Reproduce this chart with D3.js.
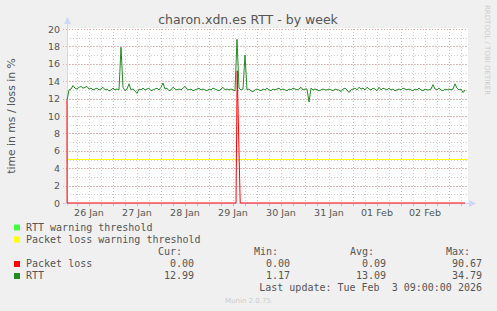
<!DOCTYPE html>
<html>
<head>
<meta charset="utf-8">
<script src="https://cdn.jsdelivr.net/npm/d3@7"></script>
<style>
body { margin: 0; background: #F0F0F0; }
text { font-family: "DejaVu Sans", sans-serif; }
.mono { font-family: "DejaVu Sans Mono", monospace; font-size: 10px; fill: #555; }
</style>
</head>
<body>
<div id="chart"></div>
<script>
// y axis tick labels
let yTicks = [0, 2, 4, 6, 8, 10, 12, 14, 16, 18, 20];

// RTT, one value per hour, starting Jan 26 01:00
let rttValues = [
    11.8, 13.0, 13.1, 13.5, 13.2, 13.1, 13.3, 13.4, 13.2, 13.3, 13.4, 13.1, 13.2, 13.0, 13.1, 13.2, 13.0, 13.1, 13.3, 13.0, 13.1, 12.9, 13.0, 13.2,
    13.0, 13.1, 13.0, 17.9, 13.3, 12.9, 13.1, 13.7, 13.0, 13.1, 12.9, 12.6, 13.1, 13.0, 13.2, 13.0, 13.1, 13.2, 12.9, 13.0, 13.1, 13.2, 13.0, 13.3,
    13.8, 13.1, 13.2, 12.9, 13.0, 13.3, 13.1, 13.0, 13.1, 13.0, 13.2, 13.4, 13.1, 13.0, 13.1, 12.9, 13.0, 13.1, 13.2, 13.0, 13.1, 13.0, 12.9, 13.1,
    13.0, 13.2, 13.1, 13.0, 12.9, 13.1, 13.3, 13.0, 13.1, 13.0, 13.1, 13.0, 12.9, 18.8, 13.2, 13.0, 13.1, 17.0, 13.0, 13.1, 12.9, 12.8, 13.0, 13.1,
    13.0, 12.9, 13.1, 13.0, 13.2, 13.0, 12.9, 13.1, 13.0, 13.1, 13.2, 13.0, 13.1, 13.0, 12.9, 13.1, 13.0, 13.2, 13.1, 13.0, 13.1, 13.3, 13.0, 13.1,
    13.1, 11.6, 13.2, 13.0, 13.1, 13.0, 12.9, 13.0, 13.1, 13.0, 13.0, 13.1, 13.0, 12.9, 13.1, 13.0, 13.0, 12.8, 13.1, 13.2, 13.0, 12.7, 13.0, 13.1,
    13.2, 13.0, 13.3, 13.1, 13.2, 13.0, 13.3, 13.1, 13.0, 13.2, 13.1, 12.9, 13.3, 13.0, 13.2, 13.1, 13.0, 13.2, 13.0, 13.1, 12.9, 13.0, 13.1, 13.0,
    13.2, 13.1, 13.0, 13.1, 13.0, 12.9, 13.1, 13.0, 13.2, 13.0, 12.9, 13.1, 13.0, 13.0, 13.1, 13.6, 13.1, 13.0, 13.2, 13.0, 12.9, 13.1, 13.0, 13.1,
    13.0, 13.1, 13.7, 13.2, 13.0, 13.1, 12.7, 12.99
];

// packet loss, [hours after Jan 26 00:00, value], zero elsewhere
let lossPoints = [[1, 11.8], [1.05, 0], [85.5, 0], [86.1, 15.2], [87.6, 0], [200, 0]];

let lossWarning = 5;

let legendNames = ["RTT warning threshold", "Packet loss warning threshold", "Packet loss", "RTT"];
let legendColors = ["#44FF44", "#FFFF00", "#FF0000", "#228B22"];
let statCur = ["0.00", "12.99"];
let statMin = ["0.00", "1.17"];
let statAvg = ["0.09", "13.09"];
let statMax = ["90.67", "34.79"];

var width = 497, height = 311;
var t0 = Date.UTC(2026, 0, 26, 0, 0);
var hour = 3600 * 1000;

var svg = d3.select("#chart").append("svg")
    .attr("width", width)
    .attr("height", height)
    .style("display", "block");

svg.append("rect").attr("width", width).attr("height", height).attr("fill", "#F0F0F0");

var x = d3.scaleUtc()
    .domain([new Date(t0 + 1 * hour), new Date(t0 + 201.5 * hour)])
    .range([67, 468]);

var y = d3.scaleLinear().domain([0, 20]).range([203, 29]);

// canvas
svg.append("rect")
    .attr("x", 67).attr("y", 28)
    .attr("width", 401).attr("height", 176)
    .attr("fill", "#fff");

//grid: minor every 6h and every 1, major every day and every 2
var g = svg.append("g");
var minorX = d3.utcHour.every(6).range(x.domain()[0], x.domain()[1]);
var majorX = d3.utcDay.range(x.domain()[0], x.domain()[1]);

g.selectAll(".vminor").data(minorX).enter().append("line")
    .attr("x1", d => Math.round(x(d)) + 0.5).attr("x2", d => Math.round(x(d)) + 0.5)
    .attr("y1", 29).attr("y2", 203)
    .attr("stroke", "#cfcfcf").attr("stroke-dasharray", "1,2");

g.selectAll(".hminor").data(d3.range(1, 20, 1)).enter().append("line")
    .attr("x1", 67).attr("x2", 468)
    .attr("y1", d => Math.round(y(d)) + 0.5).attr("y2", d => Math.round(y(d)) + 0.5)
    .attr("stroke", "#cfcfcf").attr("stroke-dasharray", "1,2");

g.selectAll(".vmajor").data(majorX).enter().append("line")
    .attr("x1", d => Math.round(x(d)) + 0.5).attr("x2", d => Math.round(x(d)) + 0.5)
    .attr("y1", 29).attr("y2", 206)
    .attr("stroke", "#eda8a8").attr("stroke-dasharray", "1,2");

g.selectAll(".hmajor").data(yTicks).enter().append("line")
    .attr("x1", 63).attr("x2", 468)
    .attr("y1", d => Math.round(y(d)) + 0.5).attr("y2", d => Math.round(y(d)) + 0.5)
    .attr("stroke", "#eda8a8").attr("stroke-dasharray", "1,2");

// little ticks under the x axis
g.selectAll(".xt").data(minorX).enter().append("line")
    .attr("x1", d => Math.round(x(d)) + 0.5).attr("x2", d => Math.round(x(d)) + 0.5)
    .attr("y1", 204).attr("y2", 206)
    .attr("stroke", "#bbb");

// y labels
svg.selectAll(".ylab").data(yTicks).enter().append("text")
    .attr("x", 60).attr("y", d => y(d) + 3.5)
    .attr("text-anchor", "end")
    .attr("font-size", "9.5px")
    .attr("fill", "#555")
    .text(d => d);

// x labels at noon
var noons = majorX.map(d => d3.utcHour.offset(d, 12)).concat([d3.utcHour.offset(d3.utcDay.floor(x.domain()[0]), 12)]);
svg.selectAll(".xlab").data(noons.filter(d => x(d) > 67 && x(d) < 468)).enter().append("text")
    .attr("x", d => x(d)).attr("y", 216)
    .attr("text-anchor", "middle")
    .attr("font-size", "9.5px")
    .attr("fill", "#555")
    .text(d => d3.utcFormat("%d %b")(d));

// axes, light blue with arrows
svg.append("line").attr("x1", 67.5).attr("x2", 67.5).attr("y1", 206).attr("y2", 22)
    .attr("stroke", "#CFD6F8");
svg.append("path").attr("d", "M64,24 L71,24 L67.5,17 Z").attr("fill", "#CFD6F8");
svg.append("line").attr("x1", 64).attr("x2", 470).attr("y1", 203.5).attr("y2", 203.5)
    .attr("stroke", "#CFD6F8");
svg.append("path").attr("d", "M469,200 L469,207 L476,203.5 Z").attr("fill", "#CFD6F8");

// packet loss warning line
svg.append("line")
    .attr("x1", 67).attr("x2", 468)
    .attr("y1", y(lossWarning)).attr("y2", y(lossWarning))
    .attr("stroke", legendColors[1]).attr("stroke-width", 1.2);

var lossLine = d3.line()
    .x(d => x(new Date(t0 + d[0] * hour)))
    .y(d => y(d[1]));

svg.append("path")
    .datum(lossPoints)
    .attr("d", lossLine)
    .attr("fill", "none")
    .attr("stroke", legendColors[2])
    .attr("stroke-width", 1);

var rttLine = d3.line()
    .x((d, i) => x(new Date(t0 + (i + 1) * hour)))
    .y(d => y(d));

svg.append("path")
    .datum(rttValues)
    .attr("d", rttLine)
    .attr("fill", "none")
    .attr("stroke", legendColors[3])
    .attr("stroke-width", 1);

// title
svg.append("text")
    .attr("x", 248).attr("y", 24)
    .attr("text-anchor", "middle")
    .attr("font-size", "12.5px")
    .attr("fill", "#555")
    .text("charon.xdn.es RTT - by week");

// y axis title
svg.append("text")
    .attr("transform", "translate(15,116) rotate(-90)")
    .attr("text-anchor", "middle")
    .attr("font-size", "10.8px")
    .attr("fill", "#555")
    .text("time in ms / loss in %");

// watermark
svg.append("text")
    .attr("transform", "translate(485,5) rotate(90)")
    .attr("font-size", "7px")
    .attr("fill", "#ccc")
    .text("RRDTOOL / TOBI OETIKER");

// legend
var rows = [230.5, 242.5, 267, 279];
legendNames.forEach(function(name, i) {
    svg.append("rect")
        .attr("x", 14).attr("y", rows[i] - 6)
        .attr("width", 6).attr("height", 6)
        .attr("fill", legendColors[i]);
    svg.append("text").attr("class", "mono")
        .attr("x", 26).attr("y", rows[i])
        .text(name);
});

var cols = [194, 290, 386, 482];
var heads = ["Cur:", "Min:", "Avg:", "Max:"];
var headEnds = [182, 278, 374, 470];
heads.forEach(function(h, i) {
    svg.append("text").attr("class", "mono")
        .attr("x", headEnds[i]).attr("y", 255)
        .attr("text-anchor", "end")
        .text(h);
});
[statCur, statMin, statAvg, statMax].forEach(function(col, i) {
    col.forEach(function(v, j) {
        svg.append("text").attr("class", "mono")
            .attr("x", cols[i]).attr("y", rows[2 + j])
            .attr("text-anchor", "end")
            .text(v);
    });
});

svg.append("text").attr("class", "mono")
    .attr("x", 482).attr("y", 291)
    .attr("text-anchor", "end")
    .attr("xml:space", "preserve")
    .style("white-space", "pre")
    .text("Last update: Tue Feb  3 09:00:00 2026");

svg.append("text")
    .attr("x", 248).attr("y", 303)
    .attr("text-anchor", "middle")
    .attr("font-size", "7px")
    .attr("fill", "#ccc")
    .text("Munin 2.0.75");
</script>
</body>
</html>
